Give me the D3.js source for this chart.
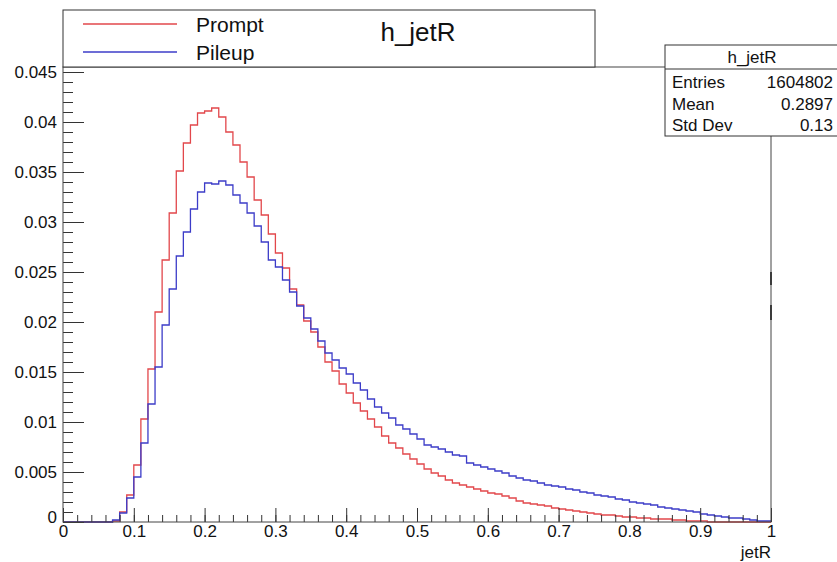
<!DOCTYPE html>
<meta charset="utf-8">
<style>
body { margin: 0; background: #fff; }
text { font-family: 'Liberation Sans', Arial, sans-serif; fill: #111; }
.frame { fill: none; stroke: #444; stroke-width: 1px; }
.hist { fill: none; stroke-width: 1.3px; }
</style>
<body>
<script src="https://d3js.org/d3.v7.min.js"></script>
<script>
// 100 bins of width 0.01 on [0,1]
const binEdges = d3.range(0, 101).map(i => i / 100);

const prompt = [
  0, 0, 0, 0, 0, 0, 0, 0.0001, 0.0010, 0.0027,
  0.0057, 0.0103, 0.0153, 0.0210, 0.0262, 0.0309, 0.0351, 0.0379, 0.0397, 0.0409,
  0.0411, 0.0414, 0.0405, 0.0390, 0.0377, 0.0360, 0.0345, 0.0322, 0.0307, 0.0288,
  0.0269, 0.0254, 0.0233, 0.0217, 0.0201, 0.0190, 0.0175, 0.0160, 0.0151, 0.0138,
  0.0129, 0.0119, 0.0111, 0.0103, 0.0095, 0.0086, 0.0079, 0.0074, 0.0068, 0.0063,
  0.0058, 0.0053, 0.0049, 0.0046, 0.0042, 0.0039, 0.0037, 0.0035, 0.0033, 0.0031,
  0.0029, 0.0028, 0.0026, 0.0024, 0.0021, 0.0019, 0.0018, 0.0017, 0.0016, 0.0014,
  0.0013, 0.0012, 0.0011, 0.0010, 0.0009, 0.0008, 0.0007, 0.0007, 0.0006, 0.0005,
  0.0005, 0.0004, 0.0004, 0.0003, 0.0003, 0.0003, 0.0002, 0.0002, 0.0001, 0.0001,
  0.0001, 0, 0, 0, 0, 0, 0, 0, 0, 0
];

const pileup = [
  0, 0, 0, 0, 0, 0, 0, 0.0002, 0.0009, 0.0024,
  0.0045, 0.0079, 0.0118, 0.0155, 0.0197, 0.0233, 0.0266, 0.0290, 0.0313, 0.0330,
  0.0339, 0.0338, 0.0341, 0.0337, 0.0327, 0.0319, 0.0309, 0.0296, 0.0280, 0.0262,
  0.0255, 0.0242, 0.0230, 0.0216, 0.0204, 0.0193, 0.0181, 0.0169, 0.0162, 0.0154,
  0.0148, 0.0139, 0.0132, 0.0123, 0.0115, 0.0109, 0.0104, 0.0097, 0.0093, 0.0088,
  0.0083, 0.0077, 0.0075, 0.0073, 0.0070, 0.0067, 0.0066, 0.0059, 0.0057, 0.0055,
  0.0053, 0.0051, 0.0049, 0.0046, 0.0044, 0.0042, 0.0041, 0.0039, 0.0037, 0.0036,
  0.0035, 0.0033, 0.0032, 0.0030, 0.0029, 0.0027, 0.0026, 0.0025, 0.0023, 0.0022,
  0.0020, 0.0019, 0.0018, 0.0017, 0.0015, 0.0014, 0.0013, 0.0012, 0.0011, 0.0010,
  0.0008, 0.0007, 0.0006, 0.0005, 0.0004, 0.0004, 0.0003, 0.0002, 0.0001, 0.0001
];

const series = [
  {name: "Prompt", values: prompt, color: "#e2474b"},
  {name: "Pileup", values: pileup, color: "#3c3cc8"}
];

const xMajor = d3.range(0, 11).map(i => i / 10);
const xMinor = d3.range(0, 51).map(i => i / 50);
const yMajor = d3.range(0, 10).map(i => i * 0.005);
const yMinor = d3.range(0, 46).map(i => i * 0.001);

const statsTitle = "h_jetR";
const statsRows = [["Entries", "1604802"], ["Mean", "0.2897"], ["Std Dev", "0.13"]];

const W = 837, H = 562;
const pLeft = 63, pRight = 771, pTop = 67, pBottom = 522;
const fs = 17;

const svg = d3.select("body").append("svg")
    .attr("width", W)
    .attr("height", H);

const x = d3.scaleLinear().domain([0, 1]).range([pLeft, pRight]);
const y = d3.scaleLinear().domain([0, 0.0455]).range([pBottom, pTop]);

// histograms as steps
const line = d3.line()
    .x(d => x(d[0]))
    .y(d => y(d[1]))
    .curve(d3.curveStepAfter);

series.forEach(s => {
  const pts = s.values.map((v, i) => [binEdges[i], v]);
  pts.push([binEdges[100], s.values[99]]);
  svg.append("path")
      .attr("class", "hist")
      .attr("stroke", s.color)
      .attr("d", line(pts));
});

// axes, ticks pointing inwards like ROOT
function styleAxis(g) {
  g.select(".domain").remove();
  g.selectAll("line").attr("stroke", "#333");
  g.selectAll("text")
      .attr("font-family", "'Liberation Sans', Arial, sans-serif")
      .attr("font-size", fs)
      .attr("fill", "#111");
}

svg.append("g")
    .attr("transform", `translate(0,${pBottom})`)
    .call(d3.axisBottom(x).tickValues(xMinor).tickSize(-7).tickFormat(""))
    .call(styleAxis);

svg.append("g")
    .attr("transform", `translate(0,${pBottom})`)
    .call(d3.axisBottom(x).tickValues(xMajor).tickSize(-14).tickPadding(3)
        .tickFormat(d => d3.format("~g")(d)))
    .call(styleAxis);

svg.append("g")
    .attr("transform", `translate(${pLeft},0)`)
    .call(d3.axisLeft(y).tickValues(yMinor).tickSize(-10).tickFormat(""))
    .call(styleAxis);

const yAx = svg.append("g")
    .attr("transform", `translate(${pLeft},0)`)
    .call(d3.axisLeft(y).tickValues(yMajor).tickSize(-21).tickPadding(6)
        .tickFormat(d => d3.format("~g")(+d.toFixed(3))))
    .call(styleAxis);

// ROOT nudges the y "0" up off the x axis
yAx.selectAll(".tick").filter(d => d === 0).select("text").attr("y", -5);

svg.append("rect")
    .attr("class", "frame")
    .attr("x", pLeft)
    .attr("y", pTop)
    .attr("width", pRight - pLeft)
    .attr("height", pBottom - pTop);

// small marks on the right edge of the frame
[[272, 285], [305, 320]].forEach(([a, b]) => {
  svg.append("line")
      .attr("x1", pRight).attr("x2", pRight)
      .attr("y1", a).attr("y2", b)
      .attr("stroke", "#222").attr("stroke-width", 1.6);
});

svg.append("text")
    .attr("x", pRight)
    .attr("y", 558)
    .attr("text-anchor", "end")
    .attr("font-size", fs)
    .text("jetR");

// legend box with title
const leg = svg.append("g");
leg.append("rect")
    .attr("x", pLeft).attr("y", 10)
    .attr("width", 595 - pLeft).attr("height", pTop - 10)
    .attr("fill", "#fff").attr("stroke", "#333");

series.forEach((s, i) => {
  const ly = 24 + i * 28;
  leg.append("line")
      .attr("x1", 83).attr("x2", 177)
      .attr("y1", ly).attr("y2", ly)
      .attr("stroke", s.color).attr("stroke-width", 1.3);
  leg.append("text")
      .attr("x", 196).attr("y", ly + 8)
      .attr("font-size", 21)
      .text(s.name);
});

leg.append("text")
    .attr("x", 418).attr("y", 41)
    .attr("text-anchor", "middle")
    .attr("font-size", 26)
    .text("h_jetR");

// stats box
const st = svg.append("g");
st.append("rect")
    .attr("x", 665).attr("y", 45)
    .attr("width", 180).attr("height", 91)
    .attr("fill", "#fff").attr("stroke", "#333");
st.append("line")
    .attr("x1", 665).attr("x2", 837)
    .attr("y1", 69).attr("y2", 69)
    .attr("stroke", "#333");
st.append("text")
    .attr("x", 752).attr("y", 63)
    .attr("text-anchor", "middle")
    .attr("font-size", fs)
    .text(statsTitle);
statsRows.forEach((r, i) => {
  const by = 88 + i * 21.5;
  st.append("text").attr("x", 672).attr("y", by).attr("font-size", fs).text(r[0]);
  st.append("text").attr("x", 833).attr("y", by).attr("font-size", fs)
      .attr("text-anchor", "end").text(r[1]);
});
</script>
</body>
